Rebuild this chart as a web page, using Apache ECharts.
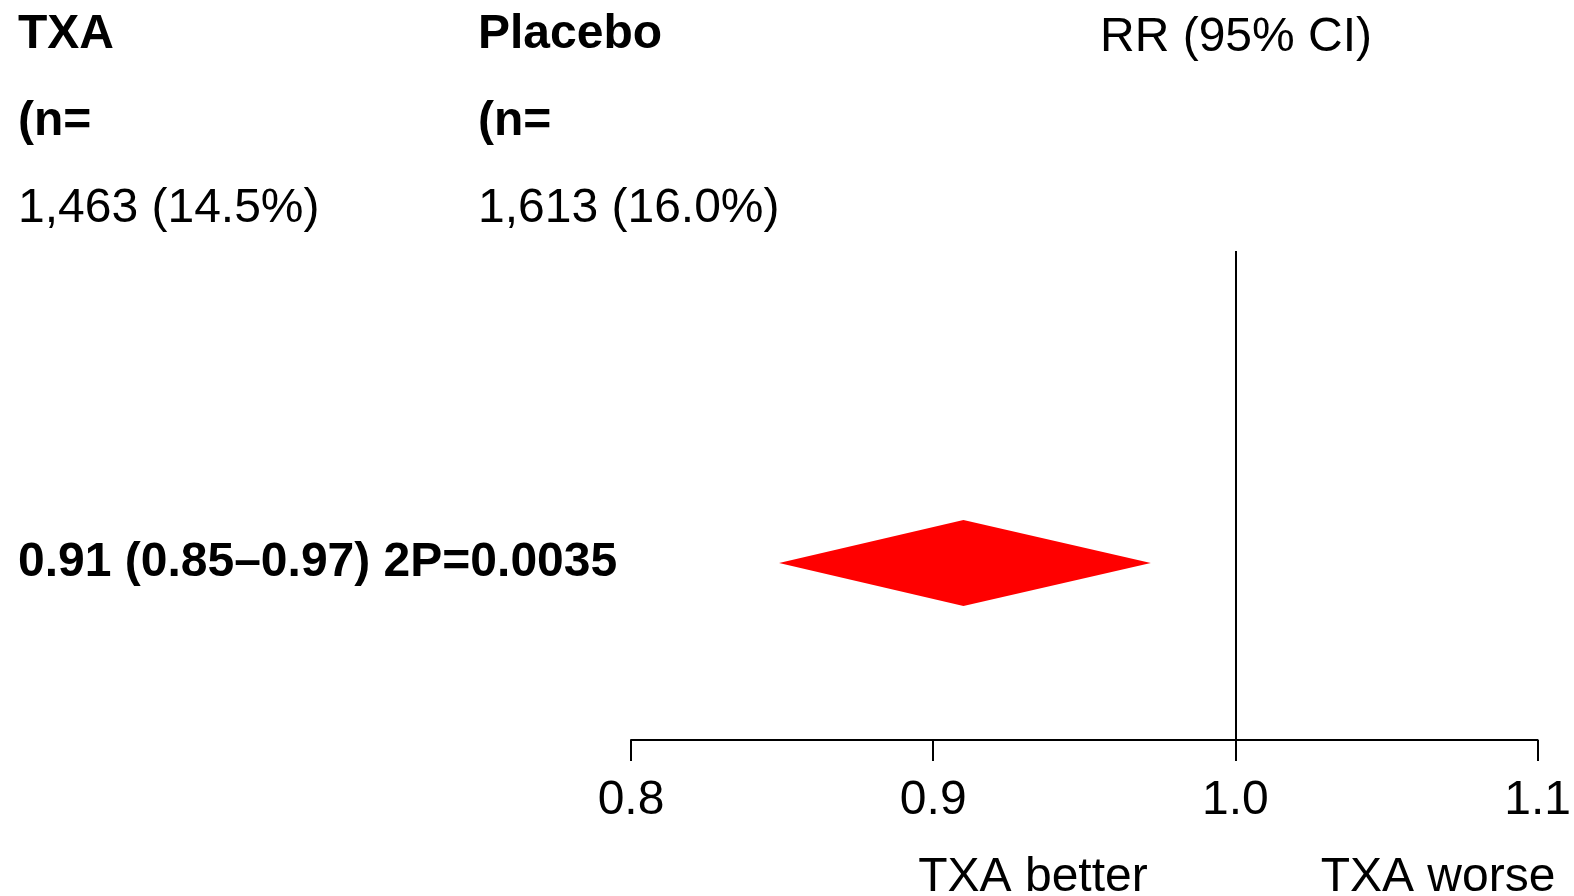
<!DOCTYPE html>
<html>
<head>
<meta charset="utf-8">
<script src="https://cdn.jsdelivr.net/npm/echarts@6/dist/echarts.min.js"></script>
<style>
html,body{margin:0;padding:0;background:#fff;}
#chart{width:1574px;height:896px;}
</style>
</head>
<body>
<div id="chart"></div>
<script>
// ---- data ----
const groupNames = ['TXA', 'Placebo'];
const groupNLabels = ['(n=', '(n='];
const groupEvents = ['1,463 (14.5%)', '1,613 (16.0%)'];
const rrEstimate = [0.91];
const rrLower = [0.849];
const rrUpper = [0.972];
const summaryText = ['0.91 (0.85\u20130.97) 2P=0.0035'];
const xTickValues = [0.8, 0.9, 1.0, 1.1];
const directionLabels = ['TXA better', 'TXA worse'];
const headerRR = 'RR (95% CI)';

// ---- layout ----
const FONT = '"Liberation Sans", Arial, sans-serif';
const FS = 48;
const GRID_LEFT = 631, GRID_RIGHT = 33, GRID_TOP = 251, GRID_BOTTOM = 156;
const ROW_Y = 0.362;      // vertical position of the summary row (0..1 of plot height)
const DIAMOND_HALF_H = 43;

const chart = echarts.init(document.getElementById('chart'), null, {renderer: 'canvas'});

const txt = (x, y, text, bold, align) => ({
  type: 'text', x: x, y: y,
  style: {text: text, fill: '#000', font: (bold ? 'bold ' : '') + FS + 'px ' + FONT,
          align: align || 'left', verticalAlign: 'top'}
});

const colX = [18, 478];
const graphics = [];
groupNames.forEach((g, i) => {
  graphics.push(txt(colX[i], 11, g, true));
  graphics.push(txt(colX[i], 98, groupNLabels[i], true));
  graphics.push(txt(colX[i], 185, groupEvents[i], false));
});
graphics.push(txt(1236, 14, headerRR, false, 'center'));
graphics.push(txt(18, 539, summaryText[0], true));
graphics.push(txt(1033, 854, directionLabels[0], false, 'center'));
graphics.push(txt(1438, 854, directionLabels[1], false, 'center'));

const diamondData = rrEstimate.map((e, i) => [rrLower[i], e, rrUpper[i], ROW_Y]);

chart.setOption({
  animation: false,
  backgroundColor: '#fff',
  grid: {left: GRID_LEFT, right: GRID_RIGHT, top: GRID_TOP, bottom: GRID_BOTTOM, containLabel: false},
  xAxis: {
    type: 'value', min: 0.8, max: 1.1, interval: 0.1,
    axisLine: {show: true, lineStyle: {color: '#000', width: 2}},
    axisTick: {show: true, inside: false, length: 21, lineStyle: {color: '#000', width: 2}},
    axisLabel: {
      show: true, margin: 37, color: '#000', fontFamily: FONT, fontSize: FS,
      lineHeight: 48, verticalAlign: 'top',
      formatter: v => xTickValues.some(t => Math.abs(t - v) < 1e-9) ? v.toFixed(1) : ''
    },
    splitLine: {show: false}
  },
  yAxis: {
    type: 'value', min: 0, max: 1, show: false
  },
  series: [
    {
      type: 'custom',
      data: diamondData,
      renderItem: function (params, api) {
        const lo = api.coord([api.value(0), api.value(3)]);
        const mid = api.coord([api.value(1), api.value(3)]);
        const hi = api.coord([api.value(2), api.value(3)]);
        return {
          type: 'polygon',
          shape: {points: [[lo[0], lo[1]], [mid[0], mid[1] - DIAMOND_HALF_H], [hi[0], hi[1]], [mid[0], mid[1] + DIAMOND_HALF_H]]},
          style: {fill: '#ff0000', stroke: null}
        };
      },
      markLine: {
        silent: true, symbol: 'none', label: {show: false},
        lineStyle: {color: '#000', width: 2, type: 'solid'},
        data: [{xAxis: 1.0}]
      }
    }
  ],
  graphic: graphics
});
</script>
</body>
</html>
